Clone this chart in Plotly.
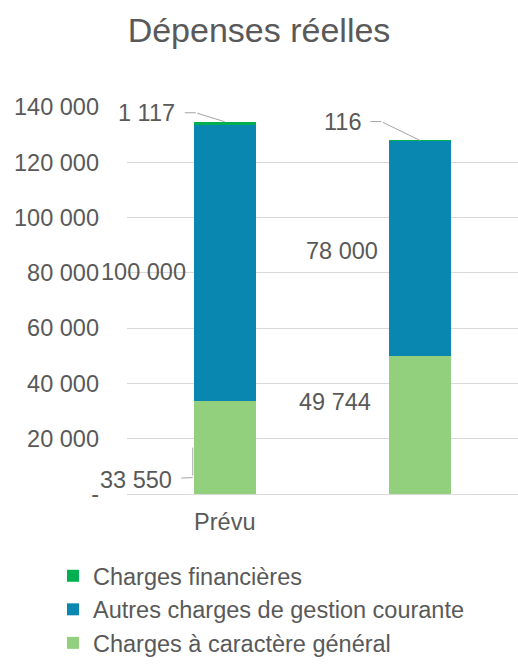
import plotly.graph_objects as go

categories = ["Prévu", "Réalisé"]
tick_labels = ["Prévu", ""]
charges_generales = [33550, 49744]
autres_charges = [100000, 78000]
charges_financieres = [1117, 116]
y_tickvals = [0, 20000, 40000, 60000, 80000, 100000, 120000, 140000]
y_ticktext = ["-", "20 000", "40 000", "60 000", "80 000", "100 000", "120 000", "140 000"]

FONT = "Liberation Sans, Arial, sans-serif"
GREY = "#595959"
LEAD = "#A6A6A6"
FS = 23.5

fig = go.Figure()
fig.add_trace(go.Bar(x=categories, y=charges_generales, name="Charges à caractère général",
                     marker=dict(color="#92D07E", line=dict(width=0)), legendgroup="c"))
fig.add_trace(go.Bar(x=categories, y=autres_charges, name="Autres charges de gestion courante",
                     marker=dict(color="#0A87B0", line=dict(width=0)), legendgroup="b"))
fig.add_trace(go.Bar(x=categories, y=charges_financieres, name="Charges financières",
                     marker=dict(color="#00B050", line=dict(width=0)), legendgroup="a"))

def fmt(v):
    return f"{v:,}".replace(",", " ")

LBL = dict(family=FONT, size=FS, color=GREY)
ann = []
mid_offsets = {("b", 0): (-81, -9), ("b", 1): (-78, -2), ("c", 1): (-85, 23)}
for i, c in enumerate(categories):
    dx, dy = mid_offsets[("b", i)]
    ann.append(dict(x=c, y=charges_generales[i] + autres_charges[i] / 2, text=fmt(autres_charges[i]),
                    showarrow=False, xshift=dx, yshift=dy, font=LBL))
dx, dy = mid_offsets[("c", 1)]
ann.append(dict(x=categories[1], y=charges_generales[1] / 2, text=fmt(charges_generales[1]),
                showarrow=False, xshift=dx, yshift=dy, font=LBL))


def leader(x, y, label, bend, text_off, tip_shift=0):
    """bend: (dx, dy) pixel offset of the elbow from the tip; text_off: (dx, dy) of text from elbow."""
    bx, by = bend
    tx, ty = text_off
    ann.append(dict(x=x, y=y, text=" ", font=dict(size=1), showarrow=True, arrowhead=0,
                    arrowwidth=1, arrowcolor=LEAD, ax=bx, ay=by, xshift=tip_shift, standoff=0))
    ann.append(dict(x=x, y=y, text=label, font=LBL, showarrow=True, arrowhead=0,
                    arrowwidth=1, arrowcolor=LEAD, ax=tx, ay=ty, xshift=tip_shift + bx,
                    yshift=-by, standoff=0, startstandoff=8))


leader(categories[0], charges_generales[0] / 2, fmt(charges_generales[0]), (0, 30), (-57, 2), tip_shift=-32)
tops = [((-29, -9), (-49, 0)), ((-39, -19), (-39, 0))]
for i, c in enumerate(categories):
    tot = charges_generales[i] + autres_charges[i] + charges_financieres[i]
    bend, toff = tops[i]
    leader(c, tot, fmt(charges_financieres[i]), bend, toff)

fig.update_layout(
    barmode="stack",
    bargap=0.683,
    width=518, height=672,
    margin=dict(l=127, r=0, t=107, b=178, autoexpand=False),
    paper_bgcolor="white", plot_bgcolor="white",
    title=dict(text="Dépenses réelles", x=0.5, xref="container", xanchor="center",
               y=1 - 30 / 672, yref="container", yanchor="middle",
               font=dict(family=FONT, size=34, color=GREY)),
    font=dict(family=FONT, size=FS, color=GREY),
    annotations=ann,
    legend=dict(traceorder="reversed", orientation="v",
                x=(53 - 127) / 391, y=(494 - 554) / 387, xanchor="left", yanchor="top",
                font=dict(family=FONT, size=FS, color=GREY), itemwidth=30,
                tracegroupgap=6, bgcolor="rgba(0,0,0,0)"),
    showlegend=True,
)
fig.update_xaxes(tickvals=categories, ticktext=tick_labels, range=[-0.5, 1.5], autorange=False,
                 showgrid=False, showline=True, linecolor="#D9D9D9", ticks="", automargin=False,
                 ticklabelstandoff=7, tickfont=dict(family=FONT, size=FS, color=GREY))
fig.update_yaxes(range=[0, 140000], autorange=False, tickvals=y_tickvals, ticktext=y_ticktext,
                 showgrid=True, gridcolor="#D9D9D9", gridwidth=1, zeroline=False, showline=False,
                 ticks="", automargin=False, ticklabelstandoff=27,
                 tickfont=dict(family=FONT, size=FS, color=GREY))
fig.update_traces(cliponaxis=False)

fig.write_html("out.html", config={"displayModeBar": False},
               post_script="document.body.style.margin='0';document.body.style.overflow='hidden';")
